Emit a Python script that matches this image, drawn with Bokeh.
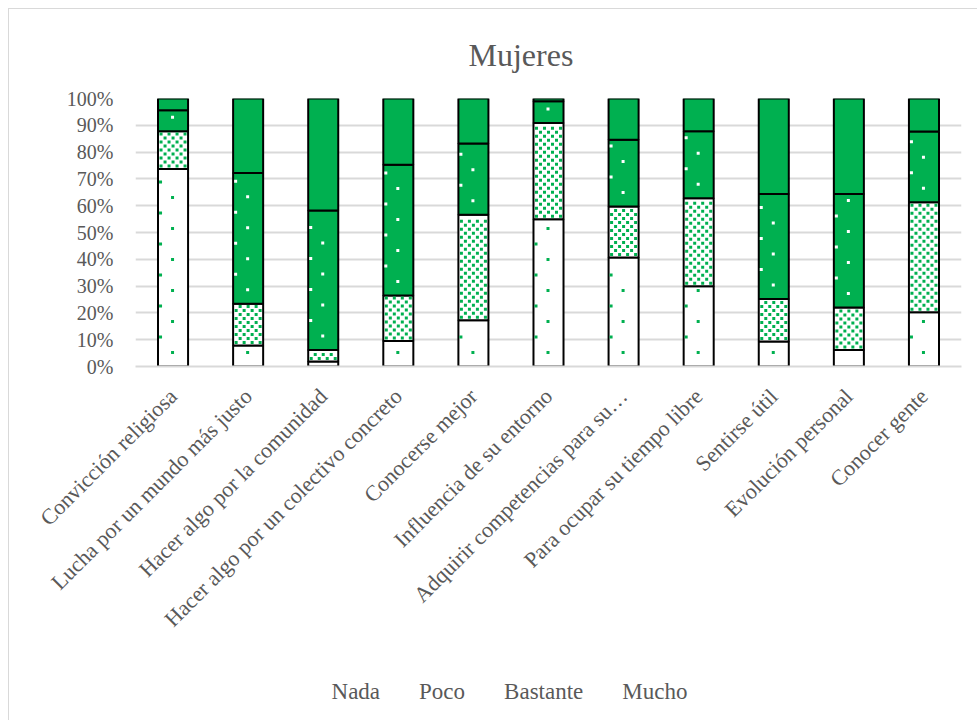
from bokeh.plotting import figure
from bokeh.models import ColumnDataSource, Legend, LegendItem, NumeralTickFormatter, FixedTicker
from bokeh.embed import file_html
from bokeh.resources import INLINE
import math

categories = ["Convicción religiosa", "Lucha por un mundo más justo", "Hacer algo por la comunidad",
              "Hacer algo por un colectivo concreto", "Conocerse mejor", "Influencia de su entorno",
              "Adquirir competencias para su…", "Para ocupar su tiempo libre", "Sentirse útil",
              "Evolución personal", "Conocer gente"]
nada = [73.7, 7.8, 1.9, 9.5, 17.3, 54.9, 40.7, 29.9, 9.3, 6.2, 20.2]
poco = [14.1, 15.6, 4.3, 17.0, 39.3, 36.0, 19.0, 32.9, 15.9, 15.8, 41.1]
bastante = [7.8, 48.8, 52.0, 48.8, 26.6, 8.1, 24.9, 25.0, 39.2, 42.4, 26.4]
mucho = [4.4, 27.8, 41.8, 24.7, 16.8, 1.0, 15.4, 12.2, 35.6, 35.6, 12.3]
series_names = ["Nada", "Poco", "Bastante", "Mucho"]

GREEN = "#00B050"
GREY = "#595959"
FONT = "Liberation Serif"
FRAME_W, FRAME_H = 826, 268
CAT_PX = FRAME_W / len(categories)

series = [nada, poco, bastante, mucho]
data = {"cat": categories}
cum = [0.0] * len(categories)
for name, vals in zip(series_names, series):
    data[name + "_b"] = [c / 100 for c in cum]
    cum = [c + v for c, v in zip(cum, vals)]
    data[name + "_t"] = [c / 100 for c in cum]
src = ColumnDataSource(data)


# pattern fills (Excel-like): small squares laid out inside each stacked segment
def sparse_dots(bottoms, tops):
    xs, ys = [], []
    for i, (b, t) in enumerate(zip(bottoms, tops)):
        yb, yt = b * FRAME_H, t * FRAME_H
        for start, dx in ((14.0, -0.5), (29.5, -12.5)):
            y = yb + start
            while y <= yt - 3:
                xs.append(i + 0.5 + dx / CAT_PX)
                ys.append(y / FRAME_H)
                y += 31
    return xs, ys


def checker(bottoms, tops):
    xs, ys = [], []
    for i, (b, t) in enumerate(zip(bottoms, tops)):
        yb, yt = b * FRAME_H, t * FRAME_H
        y = yb + 3
        r = 0
        while y <= yt - 2.5:
            x = -12 + (r % 2) * 4
            while x <= 12.5:
                xs.append(i + 0.5 + x / CAT_PX)
                ys.append(y / FRAME_H)
                x += 8
            y += 4
            r += 1
    return xs, ys


fills = {"Nada": "white", "Poco": "white", "Bastante": GREEN, "Mucho": GREEN}
dot_colors = {"Nada": GREEN, "Poco": GREEN, "Bastante": "white"}

# ---------------- main chart ----------------
p = figure(x_range=categories, y_range=(0, 1),
           frame_width=FRAME_W, frame_height=FRAME_H,
           output_backend="svg", toolbar_location=None,
           min_border_left=126, min_border_right=16, min_border_top=89, min_border_bottom=354)
p.styles = {"border-left": "1px solid #d9d9d9", "border-top": "1px solid #d9d9d9",
            "margin-left": "8px", "margin-top": "8px"}

p.title.text = "Mujeres"
p.title.align = "left"
p.title.offset = 333
p.title.text_font = FONT
p.title.text_font_size = "32px"
p.title.text_font_style = "normal"
p.title.text_color = GREY
p.title.standoff = 51

for name in series_names:
    p.vbar(x="cat", bottom=name + "_b", top=name + "_t", width=0.4, source=src,
           line_color="black", line_width=2, fill_color=fills[name])

xs, ys = sparse_dots(data["Nada_b"], data["Nada_t"])
p.scatter(xs, ys, marker="square", size=3, fill_color=dot_colors["Nada"], line_color=None)
xs, ys = checker(data["Poco_b"], data["Poco_t"])
p.scatter(xs, ys, marker="square", size=3, fill_color=dot_colors["Poco"], line_color=None)
xs, ys = sparse_dots(data["Bastante_b"], data["Bastante_t"])
p.scatter(xs, ys, marker="square", size=3, fill_color=dot_colors["Bastante"], line_color=None)

p.yaxis.ticker = FixedTicker(ticks=[i / 10 for i in range(11)])
p.yaxis.formatter = NumeralTickFormatter(format="0%")
p.yaxis.axis_line_color = None
p.yaxis.major_tick_line_color = None
p.yaxis.minor_tick_line_color = None
p.yaxis.major_tick_out = 0
p.yaxis.major_tick_in = 0
p.yaxis.major_label_standoff = 22
p.xaxis.major_tick_line_color = None
p.xaxis.major_tick_out = 0
p.xaxis.major_tick_in = 0
p.xaxis.major_label_standoff = 26
p.xaxis.axis_line_color = "#d9d9d9"
p.xaxis.axis_line_width = 2
for ax in (p.xaxis, p.yaxis):
    ax.major_label_text_font = FONT
    ax.major_label_text_color = GREY
p.yaxis.major_label_text_font_size = "20px"
p.xaxis.major_label_text_font_size = "22px"
p.xaxis.major_label_orientation = math.pi / 4
p.xgrid.grid_line_color = None
p.ygrid.grid_line_color = "#d9d9d9"
p.ygrid.grid_line_width = 2
p.outline_line_color = None

# ---------------- legend (own small canvas, placed under the chart) ----------------
LW, LH = 440, 60
lf = figure(width=LW, height=LH, x_range=(0, 1), y_range=(0, 1),
            output_backend="svg", toolbar_location=None,
            x_axis_location=None, y_axis_location=None,
            min_border=0, min_border_left=0, min_border_right=0, min_border_top=0, min_border_bottom=0)
lf.grid.visible = False
lf.outline_line_color = None
lf.background_fill_color = None
lf.border_fill_color = None
lf.styles = {"position": "absolute", "left": f"{500 - LW // 2}px", "top": f"{692 - LH // 2}px"}

items = []
for name in series_names:
    rs = [lf.vbar(x=[], top=[], bottom=[], width=0.4, line_color="black", line_width=2,
                  fill_color=fills[name])]
    if name in dot_colors:
        rs.append(lf.scatter([], [], marker="square", size=3, fill_color=dot_colors[name], line_color=None))
    items.append(LegendItem(label=name, renderers=rs))

legend = Legend(items=items, orientation="horizontal", location="center",
                label_text_font=FONT, label_text_font_size="23px", label_text_color=GREY,
                glyph_width=13, glyph_height=13, spacing=20, label_standoff=6,
                border_line_color=None, background_fill_alpha=0)
lf.add_layout(legend)

open("out.html", "w").write(file_html([p, lf], INLINE))
